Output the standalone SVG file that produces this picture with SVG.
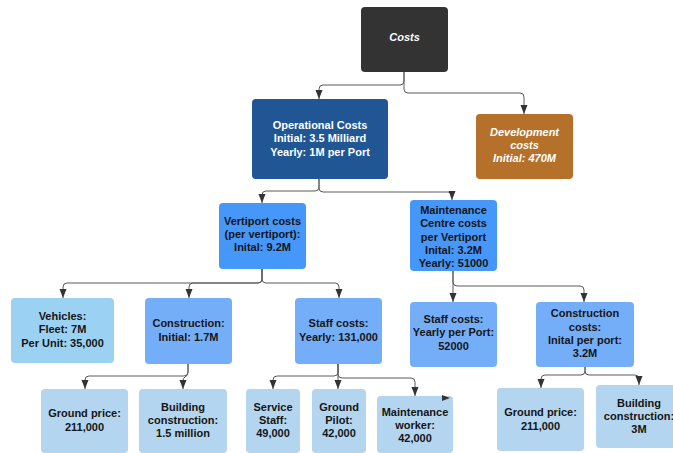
<svg xmlns="http://www.w3.org/2000/svg" width="673" height="453" viewBox="0 0 673 453">
  <defs>
    <style>
      .lbl { font-family: "Liberation Sans", Arial, sans-serif; font-size: 11px; font-weight: bold; text-anchor: middle; fill: #151515; }
      .lbl.w { fill: #ffffff; }
      .lbl.i { font-style: italic; }
      .box { stroke: none; }
      .dark { fill: #333333; }
      .op { fill: #215695; }
      .dev { fill: #b5702a; }
      .mid { fill: #4697fa; }
      .sec { fill: #75aef8; }
      .sky { fill: #9bd2f4; }
      .leaf { fill: #b3d5ef; }
      .conn path { fill: none; stroke: #5a5a5a; stroke-width: 1; marker-end: url(#arrow); }
    </style>
    <marker id="arrow" viewBox="0 0 9 8" markerWidth="9" markerHeight="8" refX="9" refY="4" orient="auto" markerUnits="userSpaceOnUse">
      <path d="M0,0.5 L9,4 L0,7.5 Z" fill="#333333"/>
    </marker>
  </defs>

  <rect width="673" height="453" fill="#ffffff"/>

  <!-- connectors -->
  <g id="connectors" class="conn">
    <path d="M404,72 V81 Q404,85 400,85 H323 Q319,85 319,89 V99"/>
    <path d="M404,72 V89 Q404,93 408,93 H520 Q524,93 524,97 V114"/>
    <path d="M319,179 V187 Q319,191 315,191 H266 Q262,191 262,195 V203"/>
    <path d="M319,179 V188 Q319,192 323,192 H448 Q452,192 452,196 V200"/>
    <path d="M262,269 V279 Q262,283 258,283 H67 Q63,283 63,287 V298"/>
    <path d="M262,269 V279 Q262,283 258,283 H193 Q189,283 189,287 V298"/>
    <path d="M262,269 V279 Q262,283 266,283 H335 Q339,283 339,287 V298"/>
    <path d="M453,271 V302"/>
    <path d="M453,271 V282 Q453,286 457,286 H580 Q584,286 584,290 V302"/>
    <path d="M188,364 V372 Q188,376 184,376 H89 Q85,376 85,380 V389"/>
    <path d="M188,364 V372 Q188,376 185,377 Q183,378 183,381 V389"/>
    <path d="M338,364 V372 Q338,376 334,376 H277 Q273,376 273,380 V389"/>
    <path d="M338,364 V389"/>
    <path d="M338,364 V374 Q338,378 342,378 H411 Q415,378 415,382 V396"/>
    <path d="M585,367 V371 Q585,375 581,375 H545 Q541,375 541,379 V388"/>
    <path d="M585,367 V371 Q585,375 589,375 H635 Q639,375 639,379 V385"/>
  </g>

  <g id="costs">
    <rect class="box dark" x="361" y="7" width="87" height="65" rx="4"/>
    <text class="lbl w i" x="404.5" y="41">Costs</text>
  </g>

  <g id="operational">
    <rect class="box op" x="252" y="99" width="136" height="80" rx="4"/>
    <text class="lbl w" x="320" y="129">Operational Costs</text>
    <text class="lbl w" x="320" y="142.3">Initial: 3.5 Milliard</text>
    <text class="lbl w" x="320" y="155.7">Yearly: 1M per Port</text>
  </g>

  <g id="development">
    <rect class="box dev" x="476" y="114" width="97" height="65" rx="4"/>
    <text class="lbl w i" x="524.5" y="135.7">Development</text>
    <text class="lbl w i" x="524.5" y="149">costs</text>
    <text class="lbl w i" x="524.5" y="162.3">Initial: 470M</text>
  </g>

  <g id="vertiport">
    <rect class="box mid" x="219" y="203" width="87" height="66" rx="4"/>
    <text class="lbl" x="262.5" y="224.7">Vertiport costs</text>
    <text class="lbl" x="262.5" y="238">(per vertiport):</text>
    <text class="lbl" x="262.5" y="251.3">Inital: 9.2M</text>
  </g>

  <g id="maintenance">
    <rect class="box mid" x="410" y="200" width="87" height="71" rx="4"/>
    <text class="lbl" x="453.5" y="214">Maintenance</text>
    <text class="lbl" x="453.5" y="227.3">Centre costs</text>
    <text class="lbl" x="453.5" y="240.7">per Vertiport</text>
    <text class="lbl" x="453.5" y="254">Inital: 3.2M</text>
    <text class="lbl" x="453.5" y="267.3">Yearly: 51000</text>
  </g>

  <g id="vehicles">
    <rect class="box sky" x="11" y="298" width="103" height="65" rx="4"/>
    <text class="lbl" x="62.5" y="320">Vehicles:</text>
    <text class="lbl" x="62.5" y="333.3">Fleet: 7M</text>
    <text class="lbl" x="62.5" y="346.7">Per Unit: 35,000</text>
  </g>

  <g id="construction">
    <rect class="box sec" x="145" y="298" width="87" height="66" rx="4"/>
    <text class="lbl" x="188.5" y="327.3">Construction:</text>
    <text class="lbl" x="188.5" y="340.7">Initial: 1.7M</text>
  </g>

  <g id="staff">
    <rect class="box sec" x="295" y="298" width="87" height="66" rx="4"/>
    <text class="lbl" x="338.5" y="327.3">Staff costs:</text>
    <text class="lbl" x="338.5" y="340.7">Yearly: 131,000</text>
  </g>

  <g id="maint-staff">
    <rect class="box sec" x="410" y="302" width="87" height="65" rx="4"/>
    <text class="lbl" x="453.5" y="323">Staff costs:</text>
    <text class="lbl" x="453.5" y="336.3">Yearly per Port:</text>
    <text class="lbl" x="453.5" y="349.7">52000</text>
  </g>

  <g id="maint-construction">
    <rect class="box sec" x="536" y="302" width="98" height="65" rx="4"/>
    <text class="lbl" x="585" y="317.3">Construction</text>
    <text class="lbl" x="585" y="330.7">costs:</text>
    <text class="lbl" x="585" y="344">Inital per port:</text>
    <text class="lbl" x="585" y="357.3">3.2M</text>
  </g>

  <g id="ground-price">
    <rect class="box leaf" x="41" y="389" width="87" height="64" rx="4"/>
    <text class="lbl" x="84.5" y="417.3">Ground price:</text>
    <text class="lbl" x="84.5" y="430.7">211,000</text>
  </g>

  <g id="building">
    <rect class="box leaf" x="139" y="389" width="88" height="64" rx="4"/>
    <text class="lbl" x="183" y="410.7">Building</text>
    <text class="lbl" x="183" y="424">construction:</text>
    <text class="lbl" x="183" y="437.3">1.5 million</text>
  </g>

  <g id="service-staff">
    <rect class="box leaf" x="246" y="389" width="54" height="64" rx="4"/>
    <text class="lbl" x="273" y="410.7">Service</text>
    <text class="lbl" x="273" y="424">Staff:</text>
    <text class="lbl" x="273" y="437.3">49,000</text>
  </g>

  <g id="ground-pilot">
    <rect class="box leaf" x="312" y="389" width="54" height="64" rx="4"/>
    <text class="lbl" x="339" y="410.7">Ground</text>
    <text class="lbl" x="339" y="424">Pilot:</text>
    <text class="lbl" x="339" y="437.3">42,000</text>
  </g>

  <g id="maintenance-worker">
    <rect class="box leaf" x="377" y="396" width="76" height="57" rx="4"/>
    <text class="lbl" x="415" y="415.7">Maintenance</text>
    <text class="lbl" x="415" y="429">worker:</text>
    <text class="lbl" x="415" y="442.3">42,000</text>
    <path d="M442,395 L450,398 L442,401 Z" fill="#333333"/>
  </g>

  <g id="ground-price-2">
    <rect class="box leaf" x="497" y="388" width="87" height="63" rx="4"/>
    <text class="lbl" x="540.5" y="416.3">Ground price:</text>
    <text class="lbl" x="540.5" y="429.7">211,000</text>
  </g>

  <g id="building-2">
    <rect class="box leaf" x="596" y="385" width="86" height="63" rx="4"/>
    <text class="lbl" x="639" y="406.7">Building</text>
    <text class="lbl" x="639" y="420">construction:</text>
    <text class="lbl" x="639" y="433.3">3M</text>
  </g>
</svg>
